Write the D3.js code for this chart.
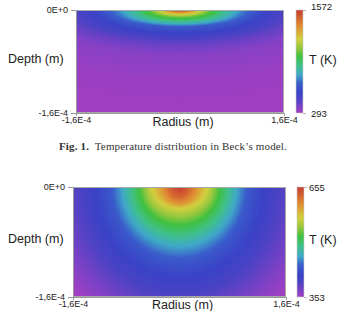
<!DOCTYPE html>
<html>
<head>
<meta charset="utf-8">
<script src="https://cdn.jsdelivr.net/npm/d3@7"></script>
<style>
  html, body { margin: 0; padding: 0; background: #fff; }
  svg { display: block; font-family: "Liberation Sans", Arial, sans-serif; }
</style>
</head>
<body>
<div id="chart-container"></div>
<script>
// Beck's model: temperature along the surface (radius, m) and down the axis (depth, m)
const beckRange = [293, 1572]
const beckSurfaceR = [0, 0.14e-4, 0.27e-4, 0.44e-4, 0.72e-4, 0.98e-4, 1.3e-4, 1.55e-4, 2.2e-4, 3.0e-4]
const beckSurfaceT = [1572, 1450, 1250, 1050, 850, 700, 550, 470, 340, 293]
const beckDepthZ = [0, 0.05e-4, 0.11e-4, 0.19e-4, 0.26e-4, 0.39e-4, 0.51e-4, 0.70e-4, 1.09e-4, 1.6e-4, 3.0e-4]
const beckDepthT = [1572, 1300, 1050, 850, 650, 520, 420, 350, 310, 296, 293]

// second model (lower figure)
const lowerRange = [353, 655]
const lowerSurfaceR = [0, 0.15e-4, 0.27e-4, 0.41e-4, 0.60e-4, 0.83e-4, 1.05e-4, 1.28e-4, 1.50e-4, 2.2e-4]
const lowerSurfaceT = [655, 630, 600, 570, 520, 470, 432, 412, 392, 353]
const lowerDepthZ = [0, 0.15e-4, 0.25e-4, 0.31e-4, 0.55e-4, 0.83e-4, 1.09e-4, 1.31e-4, 1.6e-4, 2.2e-4]
const lowerDepthT = [655, 630, 600, 570, 520, 470, 432, 414, 392, 353]

// axis ticks
const depthTicks = [0, -1.6e-4]
const depthTickLabels = ['0E+0', '-1,6E-4']
const radiusTicks = [-1.6e-4, 1.6e-4]
const radiusTickLabels = ['-1,6E-4', '1,6E-4']

// rainbow colour map (fraction of range -> colour)
const mapStops = [0, 0.06, 0.13, 0.2, 0.29, 0.37, 0.46, 0.55, 0.64, 0.72, 0.85, 1]
const mapColors = ['#a23fc2', '#7e41c6', '#4d42c4', '#3a42c6', '#3a5ecb', '#3fa8c8', '#3fc08a', '#40c040', '#9cc83e', '#d2cf3e', '#e08a32', '#c63c30']

const caption = ['Fig. 1.', 'Temperature distribution in Beck\u2019s model.']

const W = 344, H = 311

const svg = d3.select('#chart-container')
    .append('svg')
    .attr('width', W)
    .attr('height', H)
    .attr('viewBox', '0 0 ' + W + ' ' + H)

class FieldPanel {
    constructor(data, opts) {
        this.data = data
        this.o = opts
        this.xScale = d3.scaleLinear().domain([-1.6e-4, 1.6e-4]).range([opts.x0, opts.x1])
        this.yScale = d3.scaleLinear().domain([-1.6e-4, 0]).range([opts.y1, opts.y0])
        const [tMin, tMax] = data.range
        this.colorScale = d3.scaleLinear()
            .domain(mapStops.map(t => tMin + t * (tMax - tMin)))
            .range(mapColors)
            .clamp(true)
        // T -> radius / depth of the isotherm
        this.radiusAt = d3.scaleLinear().domain(data.surfaceT).range(data.surfaceR).clamp(true)
        this.depthAt = d3.scaleLinear().domain(data.depthT).range(data.depthZ).clamp(true)
    }

    plot() {
        this.#drawField()
        this.#drawAxes()
        this.#drawColorbar()
        this.#drawLabels()
    }

    // temperature at (r, z) from the elliptic isotherm through the two profiles
    #temp(r, z) {
        let lo = this.data.range[0], hi = this.data.range[1]
        for (let k = 0; k < 24; k++) {
            const t = (lo + hi) / 2
            const a = this.radiusAt(t), b = this.depthAt(t)
            const f = (a > 0 && b > 0) ? (r / a) ** 2 + (z / b) ** 2 : Infinity
            if (f > 1) hi = t
            else lo = t
        }
        return (lo + hi) / 2
    }

    #drawField() {
        const o = this.o
        const w = o.x1 - o.x0, h = o.y1 - o.y0
        const canvas = document.createElement('canvas')
        canvas.width = w
        canvas.height = h
        const ctx = canvas.getContext('2d')
        const img = ctx.createImageData(w, h)
        for (let j = 0; j < h; j++) {
            const z = this.yScale.invert(o.y0 + j + 0.5)
            for (let i = 0; i < w; i++) {
                const r = this.xScale.invert(o.x0 + i + 0.5)
                const c = d3.rgb(this.colorScale(this.#temp(r, z)))
                const p = (j * w + i) * 4
                img.data[p] = c.r
                img.data[p + 1] = c.g
                img.data[p + 2] = c.b
                img.data[p + 3] = 255
            }
        }
        ctx.putImageData(img, 0, 0)
        svg.append('image')
            .attr('x', o.x0)
            .attr('y', o.y0)
            .attr('width', w)
            .attr('height', h)
            .attr('href', canvas.toDataURL())
        svg.append('rect')
            .attr('x', o.x0 + 0.5)
            .attr('y', o.y0 + 0.5)
            .attr('width', w - 1)
            .attr('height', h - 1)
            .attr('fill', 'none')
            .attr('stroke', '#a8a8a8')
            .attr('stroke-width', 1)
    }

    #drawAxes() {
        const o = this.o
        const yAxis = d3.axisLeft(this.yScale)
            .tickValues(depthTicks)
            .tickFormat((d, i) => depthTickLabels[i])
            .tickSize(5)
            .tickPadding(3)
            .tickSizeOuter(0)
        const gy = svg.append('g')
            .attr('transform', 'translate(' + o.x0 + ',0)')
            .call(yAxis)
        const xAxis = d3.axisBottom(this.xScale)
            .tickValues(radiusTicks)
            .tickFormat((d, i) => radiusTickLabels[i])
            .tickSize(3)
            .tickPadding(1)
            .tickSizeOuter(0)
        const gx = svg.append('g')
            .attr('transform', 'translate(0,' + o.y1 + ')')
            .call(xAxis)
        for (const g of [gx, gy]) {
            g.select('.domain').attr('stroke', '#999')
            g.selectAll('line').attr('stroke', '#999')
            g.selectAll('text')
                .attr('fill', '#222')
                .style('font-size', '9px')
                .style('font-family', '"Liberation Sans", Arial, sans-serif')
        }
    }

    #drawColorbar() {
        const o = this.o
        const [tMin, tMax] = this.data.range
        const gradId = 'grad-' + o.id
        const grad = svg.append('defs').append('linearGradient')
            .attr('id', gradId)
            .attr('x1', 0).attr('y1', 1).attr('x2', 0).attr('y2', 0)
        grad.selectAll('stop')
            .data(mapStops)
            .enter()
            .append('stop')
            .attr('offset', d => d)
            .attr('stop-color', (d, i) => mapColors[i])
        svg.append('rect')
            .attr('x', o.bx0)
            .attr('y', o.y0)
            .attr('width', o.bx1 - o.bx0)
            .attr('height', o.y1 - o.y0)
            .attr('fill', 'url(#' + gradId + ')')
            .attr('stroke', '#c8c8c8')
            .attr('stroke-width', 0.6)
        const tScale = d3.scaleLinear().domain([tMin, tMax]).range([o.y1, o.y0])
        const tAxis = d3.axisRight(tScale)
            .tickValues([tMin, tMax])
            .tickFormat(d3.format('d'))
            .tickSize(3)
            .tickPadding(o.barPad)
            .tickSizeOuter(0)
        const g = svg.append('g')
            .attr('transform', 'translate(' + o.bx1 + ',0)')
            .call(tAxis)
        g.select('.domain').remove()
        g.selectAll('line').attr('stroke', '#bbb')
        g.selectAll('text')
            .attr('fill', '#222')
            .attr('dy', (d, i) => i === 1 ? (o.topShift + 3) + 'px' : '3px')
            .style('font-size', '9.5px')
            .style('font-family', '"Liberation Sans", Arial, sans-serif')
    }

    #drawLabels() {
        const o = this.o
        const mid = (o.y0 + o.y1) / 2
        svg.append('text')
            .attr('x', 8)
            .attr('y', mid + 1)
            .attr('fill', '#222')
            .style('font-size', '12.5px')
            .text('Depth (m)')
        svg.append('text')
            .attr('x', 309)
            .attr('y', mid + 2)
            .attr('fill', '#222')
            .style('font-size', '12.5px')
            .text('T (K)')
        svg.append('text')
            .attr('x', (o.x0 + o.x1) / 2 + 3)
            .attr('y', o.y1 + o.titleGap)
            .attr('text-anchor', 'middle')
            .attr('fill', '#222')
            .style('font-size', '12.5px')
            .text('Radius (m)')
    }
}

new FieldPanel(
    { range: beckRange, surfaceR: beckSurfaceR, surfaceT: beckSurfaceT, depthZ: beckDepthZ, depthT: beckDepthT },
    { id: 'beck', x0: 76, x1: 284, y0: 10, y1: 113, bx0: 296, bx1: 303, barPad: 5, topShift: -4, titleGap: 13 }
).plot()

new FieldPanel(
    { range: lowerRange, surfaceR: lowerSurfaceR, surfaceT: lowerSurfaceT, depthZ: lowerDepthZ, depthT: lowerDepthT },
    { id: 'lower', x0: 73, x1: 286, y0: 187, y1: 297, bx0: 297, bx1: 304, barPad: 2, topShift: 0, titleGap: 12 }
).plot()

// caption between the two figures, stretched to the width it has in the scan
const cap = svg.append('text')
    .attr('x', 173)
    .attr('y', 150)
    .attr('text-anchor', 'middle')
    .attr('fill', '#333')
    .style('font-family', '"Liberation Serif", "Times New Roman", serif')
    .style('font-size', '11px')
cap.append('tspan').style('font-weight', 'bold').text(caption[0])
cap.append('tspan').text('\u2002' + caption[1])
const capWidth = cap.node().getComputedTextLength()
cap.style('letter-spacing', ((228 - capWidth) / (caption[0].length + caption[1].length + 1)) + 'px')
</script>
</body>
</html>
